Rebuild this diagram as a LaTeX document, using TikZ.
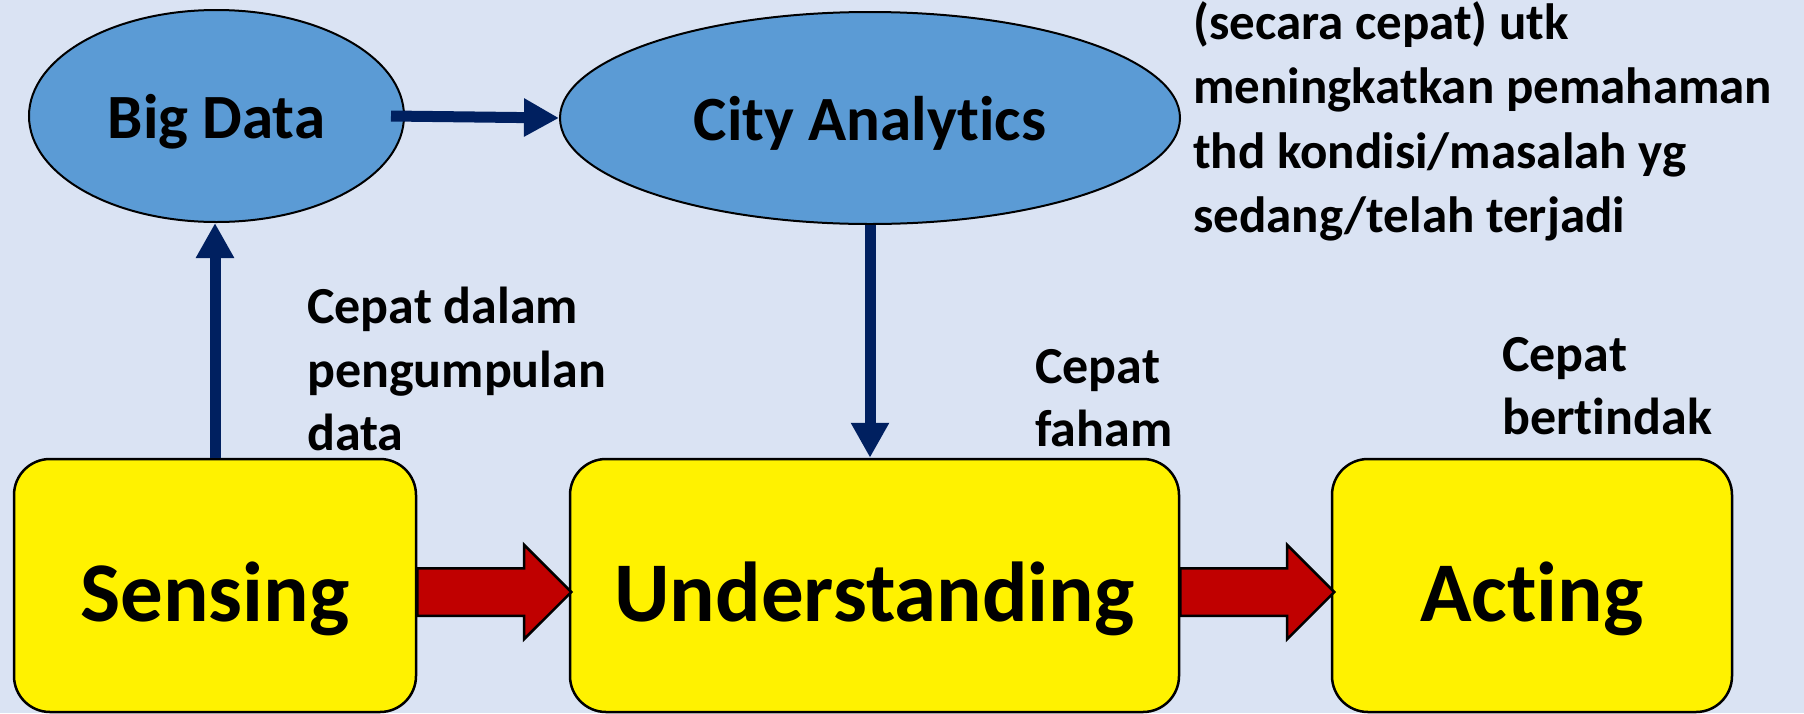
\documentclass[tikz,border=0pt]{standalone}
\usepackage{fontspec}
\setmainfont[Ligatures=NoCommon]{Carlito}
\usetikzlibrary{positioning, calc, arrows.meta, shapes.geometric, shapes.arrows}
\definecolor{bgblue}{RGB}{218,227,243}
\definecolor{ellblue}{RGB}{91,155,213}
\definecolor{flowblue}{RGB}{0,32,96}
\definecolor{pushred}{RGB}{192,0,0}

\begin{document}
\begin{tikzpicture}[x=1pt, y=-1pt,
  blob/.style={ellipse, draw=black, line width=2pt, fill=ellblue, inner sep=0pt, text depth=0pt, font=\fontsize{63}{76}\selectfont\bfseries},
  stage/.style={rectangle, rounded corners=36pt, draw=black, line width=2.5pt, fill=yellow, minimum height=253pt, text height=71pt, text depth=0pt, font=\fontsize{85}{100}\selectfont\bfseries},
  flow/.style={draw=flowblue, line width=11pt, -{Triangle[length=35pt, width=36pt]}},
  push/.style={single arrow, draw=black, line width=2.5pt, fill=pushred, single arrow head extend=23.5pt, single arrow tip angle=90, inner xsep=0pt, inner ysep=22.5pt, outer sep=0pt, minimum height=154pt},
  note/.style={anchor=north west, inner sep=0pt, align=left, font=\fontsize{52}{63.5}\selectfont\bfseries}]
  \fill[bgblue] (0,0) rectangle (1804,713);
  \useasboundingbox (0,0) rectangle (1804,713);

  \node[blob, minimum width=375pt, minimum height=212pt] (bigdata) at (216.5,116) {Big Data};
  \node[blob, minimum width=620pt, minimum height=212pt] (city) at (870,118) {City Analytics};

  \node[stage, minimum width=402pt] (sensing) at (215,585.5) {Sensing};
  \node[stage, minimum width=609pt] (understanding) at (874.5,585.5) {Understanding};
  \node[stage, minimum width=400pt] (acting) at (1532,585.5) {Acting};

  \node[push, anchor=tail, yshift=-6.5pt] (s2u) at (sensing.east) {};
  \node[push, anchor=tail, yshift=-6.5pt] (u2a) at (understanding.east) {};

  \draw[flow] (sensing.north) -- (sensing.north |- bigdata.south);
  \draw[flow] ([xshift=-14pt]bigdata.east) -- (city.west);
  \draw[flow] (city.south) -- (city.south |- understanding.north);

  \node[note] (fastcollect) at (307,287) {Cepat dalam\\pengumpulan\\data};
  \node[note] (fastgrasp) at (1035,349) {Cepat\\faham};
  \node[note] (fastact) at (1502,337) {Cepat\\bertindak};
  \node[note, font=\fontsize{51}{64.5}\selectfont\bfseries] (insight) at (1193,1) {(secara cepat) utk\\meningkatkan pemahaman\\thd kondisi/masalah yg\\sedang/telah terjadi};
\end{tikzpicture}
\end{document}
